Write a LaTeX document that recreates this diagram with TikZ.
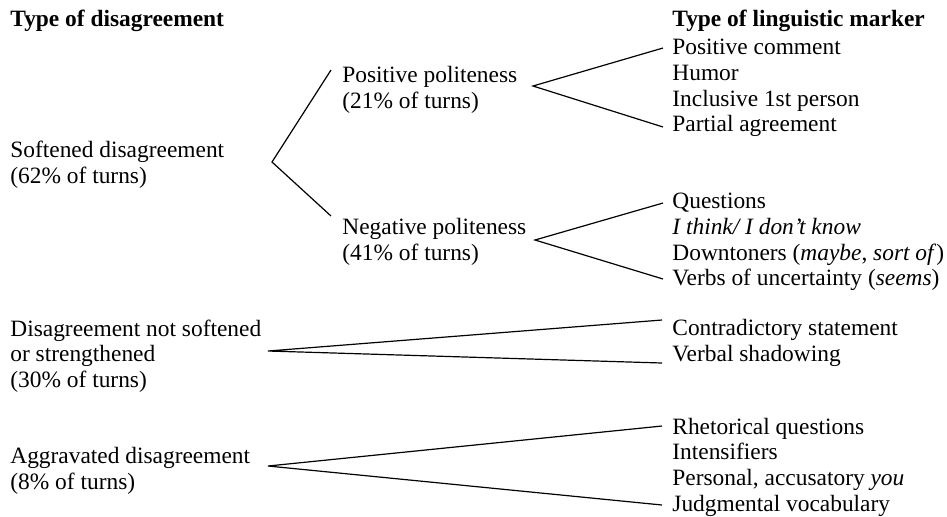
\documentclass[tikz,border=0pt]{standalone}
\usepackage{fontspec}
\setmainfont{Liberation Serif}
\newcommand{\txtsize}{\fontsize{11.7}{12.8}\selectfont}
\tikzset{
  lbl/.style={anchor=west, inner sep=0pt, align=left, font=\txtsize},
  hdr/.style={lbl, font=\txtsize\bfseries},
  fork/.style={line width=0.6pt}
}
\begin{document}
\begin{tikzpicture}[x=0.5pt, y=-0.5pt]
  \useasboundingbox (0,0) rectangle (947,516);
  % headers
  \node[hdr] (typedis) at (10,21) {Type of disagreement};
  \node[hdr] (typemark) at (672,21) {Type of linguistic marker};
  % type of disagreement (left column)
  \node[lbl] (soft)  at (10,165)  {Softened disagreement\\(62\% of turns)};
  \node[lbl] (plain) at (10,356)  {Disagreement not softened\\or strengthened\\(30\% of turns)};
  \node[lbl] (aggr)  at (10,471)  {Aggravated disagreement\\(8\% of turns)};
  % politeness (middle column)
  \node[lbl] (pos) at (342,90)  {Positive politeness\\(21\% of turns)};
  \node[lbl] (neg) at (342,242) {Negative politeness\\(41\% of turns)};
  % linguistic markers (right column)
  \node[lbl] (posm) at (672,88) {Positive comment\\Humor\\Inclusive 1st person\\Partial agreement};
  \node[lbl] (negm) at (672,242) {Questions\\\textit{I think/ I don’t know}\\Downtoners (\textit{maybe}, \textit{sort of})\\Verbs of uncertainty (\textit{seems})};
  \node[lbl] (plainm) at (672,343) {Contradictory statement\\Verbal shadowing};
  \node[lbl] (aggrm) at (672,467) {Rhetorical questions\\Intensifiers\\Personal, accusatory \textit{you}\\Judgmental vocabulary};
  % fork points (vertex, upper end, lower end)
  \foreach \f/\vx/\vy/\ex/\uy/\dy in {
      soft/272/162/331/70/216,
      pos/533/86/663/48/127,
      neg/535/240/663/203/279,
      plain/268/351/662/320/363,
      aggr/268/466/662/426/505} {
    \coordinate (\f fork) at (\vx,\vy);
    \coordinate (\f up) at (\ex,\uy);
    \coordinate (\f dn) at (\ex,\dy);
  }
  % connectors
  \foreach \f in {soft,pos,neg,plain,aggr} {
    \draw[fork] (\f up) -- (\f fork) -- (\f dn);
  }
\end{tikzpicture}
\end{document}
